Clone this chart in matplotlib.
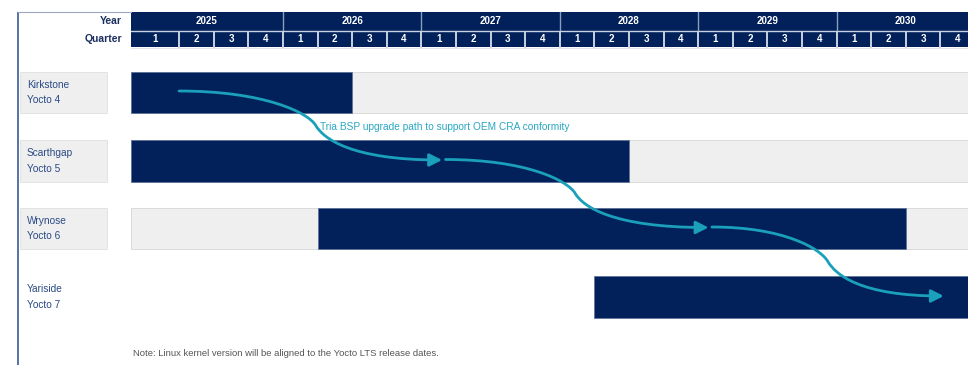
import matplotlib
matplotlib.use("Agg")
import matplotlib.pyplot as plt
from matplotlib.patches import Rectangle, FancyArrowPatch
from matplotlib.path import Path

plt.rcParams['font.family'] = ['Liberation Sans', 'DejaVu Sans']

# ---------------- data ----------------
years = [2025, 2026, 2027, 2028, 2029, 2030]
quarters = [1, 2, 3, 4]
releases = ["Kirkstone\nYocto 4", "Scarthgap\nYocto 5", "Wrynose\nYocto 6", "Yariside\nYocto 7"]
support_start = [(2022, 2), (2024, 2), (2026, 2), (2028, 2)]   # (year, quarter) inclusive
support_end = [(2026, 2), (2028, 2), (2030, 2), (2032, 2)]     # (year, quarter) inclusive
row_background = [True, True, True, False]
label_box = [True, True, True, False]
# upgrade path: start quarter, bend quarter, arrow-head quarter (quarters since 2025 Q1)
path_start = [1.0, 8.7, 16.4]
path_bend = [4.95, 12.45, 19.75]
path_end = [8.6, 16.3, 23.1]
path_label = "Tria BSP upgrade path to support OEM CRA conformity"
note = "Note: Linux kernel version will be aligned to the Yocto LTS release dates."

# ---------------- style ----------------
NAVY = "#02215b"
GREY = "#efefef"
TEAL = "#1aa0ba"
LABEL_C = "#2b4a86"

W, H = 968, 365
Q0_PX, QW_PX = 144.5, 34.6          # layout: pixel of 2025 Q1 start, pixels per quarter


def q(y, qu):
    return (y - years[0]) * 4 + (qu - 1)


def px(x):
    return (x - Q0_PX) / QW_PX


fig = plt.figure(figsize=(W / 100, H / 100), dpi=100)
ax = fig.add_axes([0, 0, 1, 1])
ax.set_xlim(px(0), px(W))
ax.set_ylim(H, 0)
ax.axis("off")

chart_left = px(131)
chart_right = px(W + 10)

# frame lines
ax.plot([px(18), px(18)], [12, H], color="#3a5a96", lw=1.2, solid_capstyle="butt")
ax.plot([px(18), chart_left], [12, 12], color="#9aa8c4", lw=0.8)

# ---------------- header ----------------
yr_top, yr_bot = 12, 30.5
qt_top, qt_bot = 31.5, 46.5
ax.text(px(122), (yr_top + yr_bot) / 2, "Year", ha="right", va="center",
        fontsize=7.5, fontweight="bold", color="#1b2f5e")
ax.text(px(122), (qt_top + qt_bot) / 2, "Quarter", ha="right", va="center",
        fontsize=7.5, fontweight="bold", color="#1b2f5e")

for yv in years:
    x0 = chart_left if yv == years[0] else q(yv, 1)
    x1 = q(yv + 1, 1)
    ax.add_patch(Rectangle((x0, yr_top), x1 - x0, yr_bot - yr_top, facecolor=NAVY,
                           edgecolor="none"))
    ax.text((x0 + x1) / 2, (yr_top + yr_bot) / 2, str(yv), ha="center", va="center",
            fontsize=7, fontweight="bold", color="white")
    for qu in quarters:
        first = (yv == years[0] and qu == 1)
        a = chart_left if first else q(yv, qu)
        b = q(yv, qu) + 1
        ax.add_patch(Rectangle((a, qt_top), b - a, qt_bot - qt_top, facecolor=NAVY,
                               edgecolor="none"))
        ax.text((a + b) / 2, (qt_top + qt_bot) / 2, str(qu), ha="center", va="center",
                fontsize=7, fontweight="bold", color="white")
        if not first:
            ax.plot([q(yv, qu), q(yv, qu)], [qt_top, qt_bot], color="#c9d1e0", lw=1.4)
    if yv > years[0]:
        ax.plot([q(yv, 1), q(yv, 1)], [yr_top, yr_bot], color="#8a9cc0", lw=1.0)
ax.plot([chart_left, chart_right], [31, 31], color="#c9d1e0", lw=1.0)
ax.plot([chart_left, chart_right], [47.5, 47.5], color="#e3e6ec", lw=0.8)

# ---------------- rows ----------------
row_y = [92.5, 161, 228.5, 297]
row_h = 41.5
for i, name in enumerate(releases):
    yc = row_y[i]
    top = yc - row_h / 2
    if label_box[i]:
        ax.add_patch(Rectangle((px(20), top), px(107) - px(20), row_h, facecolor=GREY,
                               edgecolor="#e0e0e0", lw=0.6))
    ax.text(px(27), yc, name, ha="left", va="center", fontsize=7.3,
            color=LABEL_C, linespacing=1.7)
    if row_background[i]:
        ax.add_patch(Rectangle((chart_left, top), chart_right - chart_left, row_h,
                               facecolor=GREY, edgecolor="#d6d6d6", lw=0.6))
    s = max(q(*support_start[i]), chart_left)
    e = min(q(*support_end[i]) + 1, chart_right)
    ax.add_patch(Rectangle((s, top), e - s, row_h, facecolor=NAVY,
                           edgecolor="#5a6f99", lw=0.5))

# ---------------- upgrade path ----------------
for k in range(len(path_start)):
    xs, xb, xe = path_start[k], path_bend[k], path_end[k]
    ys, ye = row_y[k] - 1.5, row_y[k + 1] - 1
    ym = (ys + ye) / 2
    tx, ty = 0.22, 13.0
    verts = [(xs, ys),
             (xs + 0.62 * (xb - xs), ys), (xb - tx, ym - ty), (xb, ym),
             (xb + tx, ym + ty), (xb + 0.28 * (xe - xb), ye), (xe, ye)]
    codes = [Path.MOVETO] + [Path.CURVE4] * 6
    arr = FancyArrowPatch(path=Path(verts, codes),
                          arrowstyle="-|>,head_length=0.75,head_width=0.38",
                          mutation_scale=10, color=TEAL, lw=2.0)
    ax.add_patch(arr)

ax.text(px(320), 127, path_label, ha="left", va="center", fontsize=7.3, color="#2aa7c2")
ax.text(px(133), 354, note, ha="left", va="center", fontsize=6.8, color="#555555")

fig.savefig("out.png", dpi=100)
